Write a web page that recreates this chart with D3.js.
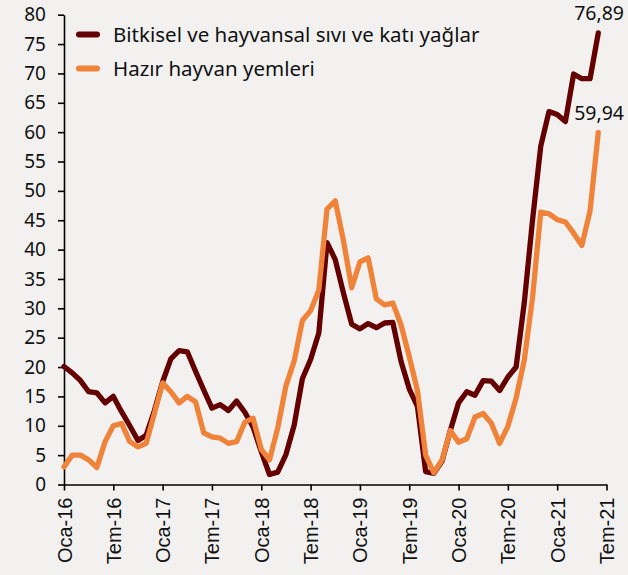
<!DOCTYPE html>
<html>
<head>
<meta charset="utf-8">
<script src="https://d3js.org/d3.v7.min.js"></script>
<style>
    body { margin: 0; background: #f2f1f0; }
    svg { display: block; }
    .axis path, .axis line { stroke: #000; stroke-width: 1.6px; }
    .y.axis text { font-family: "Noto Sans", sans-serif; font-size: 19px; fill: #111; }
    .x.axis text { font-family: "Liberation Sans", Arial, sans-serif; font-size: 20px; fill: #111; }
    .legend text { font-family: "Noto Sans", sans-serif; font-size: 20.5px; fill: #111; }
    .lbl { font-family: "Noto Sans", sans-serif; font-size: 19.5px; fill: #111; }
</style>
</head>
<body>
<svg width="628" height="575"></svg>
<script>

    // month index 0 = Oca-16 ... 65 = Haz-21
    var tickLabels = ["Oca-16", "Tem-16", "Oca-17", "Tem-17", "Oca-18", "Tem-18",
        "Oca-19", "Tem-19", "Oca-20", "Tem-20", "Oca-21", "Tem-21"];
    var seriesNames = ["Bitkisel ve hayvansal sıvı ve katı yağlar", "Hazır hayvan yemleri"];
    var colors = ["#650000", "#f0833a"];

    var yaglar = [
        20.1, 19.0, 17.7, 15.8, 15.6, 13.9, 15.0, 12.4, 10.0, 7.5,
        8.4, 12.6, 17.5, 21.4, 22.8, 22.6, 19.3, 16.1, 13.0, 13.6,
        12.6, 14.2, 12.3, 9.8, 5.6, 1.7, 2.1, 5.1, 10.1, 18.0,
        21.3, 25.8, 41.2, 38.3, 32.6, 27.3, 26.5, 27.4, 26.7, 27.5,
        27.6, 21.0, 16.3, 13.3, 2.2, 1.9, 4.0, 9.2, 13.9, 15.8,
        15.2, 17.7, 17.6, 16.0, 18.3, 20.0, 31.0, 45.0, 57.6, 63.5,
        63.0, 61.8, 69.9, 69.1, 69.1, 76.89
    ];
    var yemler = [
        3.0, 5.0, 5.0, 4.2, 2.9, 7.3, 10.0, 10.4, 7.3, 6.4,
        7.0, 12.1, 17.3, 15.8, 13.9, 15.0, 14.1, 8.8, 8.1, 7.9,
        7.0, 7.3, 10.6, 11.3, 6.0, 4.2, 9.6, 16.8, 21.0, 27.9,
        29.6, 33.1, 46.9, 48.3, 41.5, 33.5, 37.9, 38.6, 31.6, 30.6,
        30.9, 27.2, 21.8, 16.0, 5.0, 2.0, 4.2, 9.2, 7.2, 7.8,
        11.5, 12.1, 10.4, 7.0, 9.9, 14.7, 21.2, 31.8, 46.4, 46.1,
        45.1, 44.7, 42.8, 40.7, 46.6, 59.94
    ];
    var lastLabels = ["76,89", "59,94"];

    var svg = d3.select("svg");

    var x = d3.scaleLinear().domain([0, 66]).range([64, 606.5]);
    var y = d3.scaleLinear().domain([0, 80]).range([484.5, 14.7]);

    svg.append("g")
        .attr("class", "y axis")
        .attr("transform", "translate(64,0)")
        .call(d3.axisLeft(y).tickValues(d3.range(0, 81, 5)).tickSize(6).tickPadding(12).tickSizeOuter(0));

    var xAxis = svg.append("g")
        .attr("class", "x axis")
        .attr("transform", "translate(0,484.5)")
        .call(d3.axisBottom(x).tickValues(d3.range(0, 67, 6)).tickSize(6).tickSizeOuter(0)
            .tickFormat(function(d, i) { return tickLabels[i]; }));

    xAxis.selectAll("text")
        .attr("transform", "rotate(-90)")
        .attr("text-anchor", "end")
        .attr("x", -13)
        .attr("y", 0)
        .attr("dy", "0.35em");

    var line = d3.line()
        .x(function(d, i) { return x(i); })
        .y(function(d) { return y(d); });

    var data = [yaglar, yemler];

    svg.append("g").selectAll("path")
        .data([0, 1])
        .enter().append("path")
        .attr("d", function(k) { return line(data[k]); })
        .attr("fill", "none")
        .attr("stroke", function(k) { return colors[k]; })
        .attr("stroke-width", 5.3)
        .attr("stroke-linejoin", "round")
        .attr("stroke-linecap", "round");

    // value labels above the last points, right edge kept inside the frame
    svg.selectAll(".lbl")
        .data([0, 1])
        .enter().append("text")
        .attr("class", "lbl")
        .attr("x", 624)
        .attr("y", function(k) { return y(data[k][data[k].length - 1]) - 13; })
        .attr("text-anchor", "end")
        .text(function(k) { return lastLabels[k]; });

    var legend = svg.append("g").attr("class", "legend");
    var lg = legend.selectAll("g")
        .data(seriesNames)
        .enter().append("g")
        .attr("transform", function(d, i) { return "translate(0," + (34.5 + i * 34) + ")"; });
    lg.append("line")
        .attr("x1", 79).attr("x2", 97)
        .attr("stroke", function(d, i) { return colors[i]; })
        .attr("stroke-width", 6)
        .attr("stroke-linecap", "round");
    lg.append("text")
        .attr("x", 113)
        .attr("dy", "0.35em")
        .text(function(d) { return d; });

</script>
</body>
</html>
